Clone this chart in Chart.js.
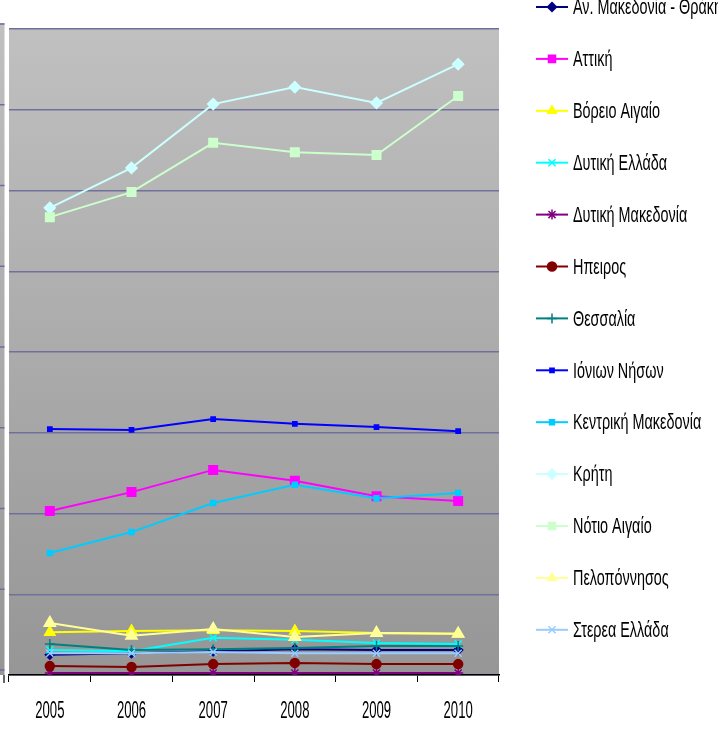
<!DOCTYPE html>
<html>
<head>
<meta charset="utf-8">
<script src="https://cdn.jsdelivr.net/npm/chart.js@4.4.1/dist/chart.umd.min.js"></script>
<style>
html,body{margin:0;padding:0;background:#fff;}
#wrap{position:relative;width:718px;height:729px;}
</style>
</head>
<body>
<div id="wrap"><canvas id="c" width="718" height="729"></canvas></div>
<script>
const years = ['2005','2006','2007','2008','2009','2010'];
const seriesNames = ['Αν. Μακεδονία - Θράκη','Αττική','Βόρειο Αιγαίο','Δυτική Ελλάδα','Δυτική Μακεδονία','Ηπειρος','Θεσσαλία','Ιόνιων Νήσων','Κεντρική Μακεδονία','Κρήτη','Νότιο Αιγαίο','Πελοπόννησος','Στερεα Ελλάδα'];
const anMakThraki = [5000, 5400, 5900, 6400, 6200, 6200];
const attiki = [40600, 45300, 50800, 48100, 44300, 43100];
const voreioAigaio = [10600, 10900, 11100, 10900, 10400, 10200];
const dytikiEllada = [6200, 5900, 9200, 8700, 7900, 7700];
const dytikiMakedonia = [500, 500, 500, 500, 500, 500];
const ipeiros = [2200, 2000, 2700, 3000, 2700, 2700];
const thessalia = [7700, 6200, 6400, 6700, 7200, 7200];
const ionioi = [60900, 60700, 63400, 62200, 61400, 60400];
const kentrikiMakedonia = [30200, 35400, 42600, 47100, 43800, 45100];
const kriti = [115700, 125600, 141400, 145600, 141700, 151300];
const notioAigaio = [113400, 119600, 131800, 129500, 128800, 143400];
const peloponnisos = [12900, 9700, 11400, 9400, 10400, 10200];
const stereaEllada = [5400, 5400, 5700, 5400, 5400, 5400];
const yMax = 160000;
const yStep = 20000;

const seriesValues = [anMakThraki, attiki, voreioAigaio, dytikiEllada, dytikiMakedonia, ipeiros, thessalia, ionioi, kentrikiMakedonia, kriti, notioAigaio, peloponnisos, stereaEllada];
const styles = [
  {c:'#000080', p:'rectRot', r:4.5},
  {c:'#FF00FF', p:'rect', r:6},
  {c:'#FFFF00', p:'triangle', r:6},
  {c:'#00FFFF', p:'crossRot', r:5},
  {c:'#800080', p:'star', r:5},
  {c:'#800000', p:'circle', r:4.5},
  {c:'#008080', p:'cross', r:5},
  {c:'#0000FF', p:'rect', r:3},
  {c:'#00CCFF', p:'rect', r:3.5},
  {c:'#CCFFFF', p:'rectRot', r:5.5},
  {c:'#CCFFCC', p:'rect', r:6},
  {c:'#FFFF99', p:'triangle', r:6.5},
  {c:'#99CCFF', p:'crossRot', r:5}
];

const datasets = seriesNames.map((n,i)=>({
  label:n, data:seriesValues[i],
  borderColor:styles[i].c, backgroundColor:styles[i].c,
  pointStyle:styles[i].p, pointRadius:styles[i].r, pointHoverRadius:styles[i].r,
  pointBorderColor:styles[i].c, pointBackgroundColor:styles[i].c,
  borderWidth:2, pointBorderWidth:1.5, tension:0, fill:false,
  order: seriesNames.length - i
}));

const FONT = '"Liberation Sans",Arial,sans-serif';

const decor = {
  id:'decor',
  beforeDraw(chart){
    const {ctx, chartArea:a} = chart;
    ctx.save();
    const g = ctx.createLinearGradient(0,a.top,0,a.bottom);
    g.addColorStop(0,'#C0C0C0');
    g.addColorStop(1,'#969696');
    ctx.fillStyle = g;
    ctx.fillRect(a.left,a.top,a.right-a.left,a.bottom-a.top);
    // left cut-off strip of a neighbouring axis
    const g2 = ctx.createLinearGradient(0,a.top-5,0,a.bottom);
    g2.addColorStop(0,'#C0C0C0');
    g2.addColorStop(1,'#969696');
    ctx.fillStyle = g2;
    ctx.fillRect(0,a.top-6,4.5,a.bottom-a.top+6);
    const ys = chart.scales.y;
    ctx.strokeStyle = '#6E6E9E';
    ctx.lineWidth = 1.5;
    for (let v=0; v<=yMax; v+=yStep){
      const y = ys.getPixelForValue(v)-5;
      ctx.beginPath(); ctx.moveTo(0,y); ctx.lineTo(4.5,y); ctx.stroke();
    }
    ctx.strokeStyle='#333';
    ctx.beginPath(); ctx.moveTo(4,a.bottom); ctx.lineTo(4,a.bottom+8); ctx.stroke();
    ctx.restore();
  },
  afterDraw(chart){
    const {ctx, chartArea:a} = chart;
    const xs = chart.scales.x;
    ctx.save();
    ctx.fillStyle = '#000';
    ctx.textAlign = 'center';
    ctx.textBaseline = 'middle';
    ctx.font = '16px ' + FONT;
    years.forEach((yr,i)=>{
      const x = xs.getPixelForValue(i);
      ctx.save();
      ctx.translate(x, 712);
      ctx.scale(0.82,1.45);
      ctx.fillText(yr,0,0);
      ctx.restore();
    });
    // legend
    chart.data.datasets.forEach((ds,i)=>{
      const y = 7 + i*51.9;
      ctx.strokeStyle = ds.borderColor;
      ctx.fillStyle = ds.borderColor;
      ctx.lineWidth = 2;
      ctx.beginPath(); ctx.moveTo(536,y); ctx.lineTo(568,y); ctx.stroke();
      ctx.lineWidth = 1.5;
      Chart.helpers.drawPoint(ctx,{pointStyle:ds.pointStyle, radius:Math.min(ds.pointRadius,5), rotation:0, borderWidth:1.5},552,y);
      ctx.fillStyle = '#000';
      ctx.textAlign = 'left';
      ctx.font = '18px ' + FONT;
      ctx.save();
      ctx.translate(573, y+1);
      ctx.scale(0.8,1.25);
      ctx.fillText(ds.label,0,0);
      ctx.restore();
    });
    ctx.restore();
  }
};

new Chart(document.getElementById('c'),{
  type:'line',
  data:{labels:years, datasets},
  options:{
    responsive:false, animation:false,
    devicePixelRatio:1,
    layout:{padding:{left:9, right:219, top:29, bottom:54}},
    plugins:{legend:{display:false}, tooltip:{enabled:false}},
    scales:{
      x:{
        offset:true,
        grid:{display:true, drawOnChartArea:false, drawTicks:true, tickLength:7, color:'#000', offset:true, lineWidth:1},
        border:{display:true, color:'#000', width:1.5},
        ticks:{display:false},
        afterFit(s){ s.height = 0; }
      },
      y:{
        min:0, max:yMax,
        ticks:{display:false, stepSize:yStep},
        grid:{color:'#70709C', lineWidth:1.5, drawTicks:false},
        border:{display:false},
        afterFit(s){ s.width = 0; }
      }
    }
  },
  plugins:[decor]
});
</script>
</body>
</html>
